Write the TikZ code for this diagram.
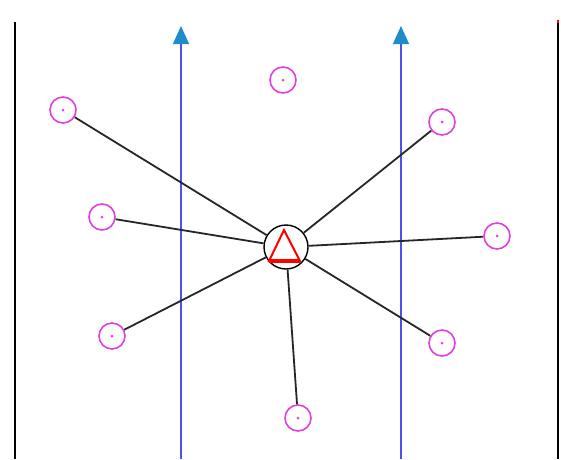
\documentclass[tikz,border=0pt]{standalone}
\usepackage{tikz}
\usetikzlibrary{arrows.meta,calc}
\definecolor{ptMagenta}{HTML}{E040E0}
\definecolor{lnBlue}{HTML}{5050F0}
\definecolor{tipTeal}{HTML}{1E8CC8}
\begin{document}
\begin{tikzpicture}[x=1pt,y=-1pt,
  pt/.style={circle,draw=ptMagenta,line width=1.6pt,minimum size=26pt,inner sep=0pt},
  hub/.style={circle,draw=black,line width=1.4pt,minimum size=44pt,inner sep=0pt},
  link/.style={line width=1.8pt,black!85},
  flow/.style={lnBlue,line width=1.4pt,-{Triangle[color=tipTeal,width=16pt,length=18pt]}}]
\useasboundingbox (0,0) rectangle (561,459);
% walls and flow lines
\coordinate (wl0) at (15,459); \coordinate (wl1) at (15,22);
\coordinate (wr0) at (558,459); \coordinate (wr1) at (558,20);
\draw[line width=1.8pt] (wl0)--(wl1); \draw[line width=1.8pt] (wr0)--(wr1);
\draw[red,line width=1.8pt] (wr1)--($(wr1)+(0,3)$);
\coordinate (f1a) at (181,459); \coordinate (f1b) at (181,26);
\coordinate (f2a) at (401,459); \coordinate (f2b) at (401,26);
\draw[flow] (f1a)--(f1b); \draw[flow] (f2a)--(f2b);
% receivers
\node[hub] (c) at (286,247) {};
\draw[red,line width=2pt] ($(c)+(-2,-17)$)--($(c)+(-17,14)$)--($(c)+(14,14)$)--cycle;
\draw[red,line width=3.5pt] ($(c)+(-17,14)$)--($(c)+(14,14)$);
\foreach \n/\x/\y in {p1/63/110,p2/283/80,p3/442/122,p4/102/217,p5/497/236,p6/112/336,p7/442/343,p8/298/418}{
  \node[pt] (\n) at (\x,\y) {};
  \fill[ptMagenta] (\n) circle (1.5pt);
}
\foreach \n in {p1,p3,p4,p5,p6,p7,p8} \draw[link] (c)--(\n);
\end{tikzpicture}
\end{document}
